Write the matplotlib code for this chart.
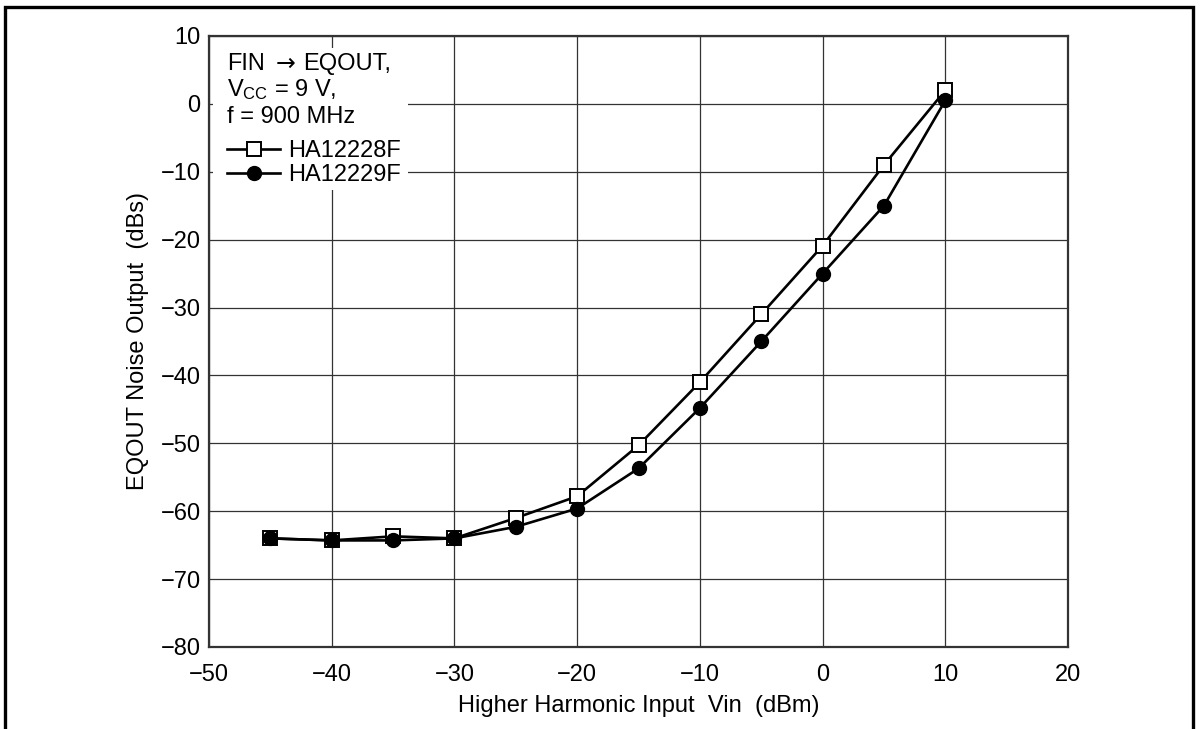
import matplotlib
matplotlib.use("Agg")
import matplotlib.pyplot as plt
from matplotlib.patches import Rectangle
from matplotlib.lines import Line2D

plt.rcParams['font.family'] = ['Liberation Sans', 'DejaVu Sans']
plt.rcParams['mathtext.fontset'] = 'custom'
plt.rcParams['mathtext.rm'] = 'Liberation Sans'
plt.rcParams['mathtext.it'] = 'Liberation Sans'
plt.rcParams['axes.unicode_minus'] = True

# Data
vin = [-45, -40, -35, -30, -25, -20, -15, -10, -5, 0, 5, 10]
ha12228f = [-64, -64.3, -63.7, -64, -61, -57.8, -50.3, -41, -31, -20.9, -9, 2]
ha12229f = [-64, -64.3, -64.3, -64, -62.3, -59.6, -53.7, -44.8, -35, -25, -15, 0.5]
labels = ["HA12228F", "HA12229F"]
xticks = [-50, -40, -30, -20, -10, 0, 10, 20]
yticks = [-80, -70, -60, -50, -40, -30, -20, -10, 0, 10]

FS = 17
W, H = 1200, 729
fig = plt.figure(figsize=(12, 7.29), dpi=100)
ax = fig.add_axes([209 / W, 1 - 647 / H, (1068 - 209) / W, (647 - 36) / H])

# outer frame (left, top, right)
x0, x1, yt = 5 / W, 1193 / W, 1 - 7 / H
fig.add_artist(Line2D([x0, x0, x1, x1], [0, yt, yt, 0], transform=fig.transFigure,
                      color='black', lw=2.4, solid_joinstyle='miter'))

ax.set_xlim(-50, 20)
ax.set_ylim(-80, 10)
ax.set_xticks(xticks)
ax.set_yticks(yticks)
ax.set_axisbelow(True)
ax.grid(True, color='#333333', lw=0.9)
for s in ax.spines.values():
    s.set_color('#333333')
    s.set_linewidth(1.6)
ax.tick_params(length=0, labelsize=FS, colors='black')
ax.tick_params(axis='x', pad=12)
ax.tick_params(axis='y', pad=6)

ax.set_xlabel("Higher Harmonic Input  Vin  (dBm)", fontsize=FS, labelpad=7)
ax.set_ylabel("EQOUT Noise Output  (dBs)", fontsize=FS, labelpad=8)

l1, = ax.plot(vin, ha12228f, '-s', color='black', lw=1.9, ms=10,
              mfc='white', mec='black', mew=1.4, label=labels[0], zorder=3)
l2, = ax.plot(vin, ha12229f, '-o', color='black', lw=1.9, ms=10,
              mfc='black', mec='black', label=labels[1], zorder=4)

# white box behind annotation
ax.add_patch(Rectangle((0.005, 0.748), 0.227, 0.232, transform=ax.transAxes,
                       facecolor='white', edgecolor='none', zorder=1))

def ax_x(px):
    return (px - 209) / 859

def ax_y(py):
    return 1 - (py - 36) / 611

ax.text(ax_x(227), ax_y(70), "FIN", transform=ax.transAxes,
        fontsize=FS, va='baseline', ha='left', zorder=5)
ax.text(ax_x(285.5), ax_y(64), "\u2192", transform=ax.transAxes, family='DejaVu Sans',
        fontsize=FS, va='center', ha='center', zorder=5)
ax.text(ax_x(303), ax_y(70), "EQOUT,", transform=ax.transAxes,
        fontsize=FS, va='baseline', ha='left', zorder=5)
ax.text(ax_x(227), ax_y(96), r"V$_{\mathregular{CC}}$ = 9 V,", transform=ax.transAxes,
        fontsize=FS, va='baseline', ha='left', zorder=5)
ax.text(ax_x(227), ax_y(123), "f = 900 MHz", transform=ax.transAxes,
        fontsize=FS, va='baseline', ha='left', zorder=5)

leg = ax.legend(handles=[l1, l2], loc='upper left',
                bbox_to_anchor=(ax_x(227), ax_y(140)), frameon=False,
                fontsize=FS, borderpad=0, borderaxespad=0, handlelength=2.25,
                handletextpad=0.34, labelspacing=0.08)
leg.set_zorder(6)

fig.savefig("out.png", dpi=100)
